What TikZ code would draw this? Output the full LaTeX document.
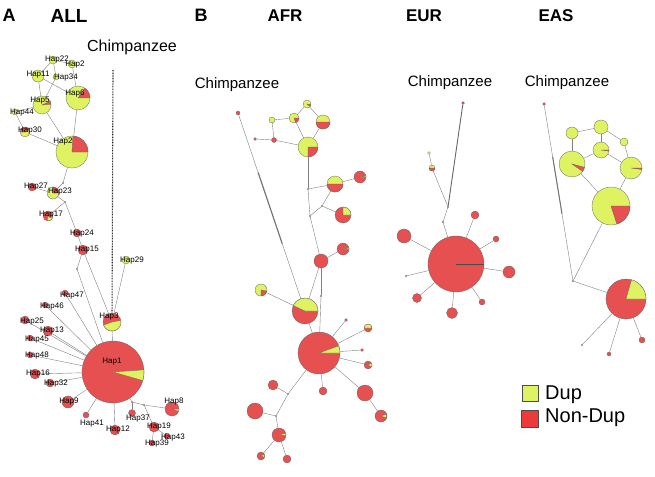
\documentclass[tikz,border=0pt]{standalone}
\usepackage{fontspec}
\setmainfont{Liberation Sans}
\usetikzlibrary{calc}
\definecolor{hap_dup}{RGB}{222, 242, 98}
\definecolor{hap_non}{RGB}{230, 80, 80}
\definecolor{leg_non}{RGB}{236, 58, 58}
\tikzstyle{rn}=[circle,fill=hap_non,draw=black!60,line width=0.3pt,inner sep=0pt]
\tikzstyle{yn}=[circle,fill=hap_dup,draw=black!60,line width=0.3pt,inner sep=0pt]
\tikzstyle{mv}=[circle,fill=black!75,inner sep=0pt,minimum size=1.8pt]
\tikzstyle{lab}=[inner sep=0pt,font=\fontsize{8}{8}\selectfont]
\tikzstyle{chimp}=[inner sep=0pt,font=\fontsize{15}{15}\selectfont]
\tikzstyle{ttl}=[inner sep=0pt,font=\fontsize{18}{18}\selectfont\bfseries]
\tikzstyle{ln}=[draw=black!50,line width=0.4pt]
\tikzstyle{none}=[]
% haplotype pie: name, position, radius, base style, wedge colour, from, to
\newcommand{\hpie}[7]{%
  \node [style=#4, minimum size=2*#3pt] (#1) at (#2) {};
  \filldraw [fill=#5, draw=black!60, line width=0.3pt] (#1.center) -- ++(#6:#3)
    arc [start angle=#6, end angle=#7, radius=#3] -- cycle;
}

\begin{document}
\begin{tikzpicture}[x=1pt, y=-1pt]
  \useasboundingbox (0,0) rectangle (655,476);

  % titles
  \node [style=ttl] (pa) at (9,15) {A};
  \node [style=ttl, font=\fontsize{19}{19}\selectfont\bfseries] (tall) at (69,16) {ALL};
  \node [style=ttl] (pb) at (201,15) {B};
  \node [style=ttl, font=\fontsize{17}{17}\selectfont\bfseries] (tafr) at (285,16) {AFR};
  \node [style=ttl, font=\fontsize{17}{17}\selectfont\bfseries] (teur) at (424,16) {EUR};
  \node [style=ttl, font=\fontsize{17}{17}\selectfont\bfseries] (teas) at (556,16) {EAS};

  % ---------------- A: ALL ----------------
  \node [style=chimp, font=\fontsize{16}{16}\selectfont] (cla) at (132,47) {Chimpanzee};
  \coordinate (ca) at (113,70);
  \node [style=yn, minimum size=8pt] (h22) at (53,60) {};
  \node [style=yn, minimum size=8pt] (h28) at (72,64) {};
  \node [style=yn, minimum size=12pt] (h11) at (38,76) {};
  \node [style=yn, minimum size=6pt] (h34) at (56,77) {};
  \hpie{h6}{78,98}{12}{yn}{hap_non}{-55}{0}
  \hpie{h5}{42,105}{9}{yn}{hap_non}{-25}{-5}
  \node [style=yn, minimum size=6pt] (h44) at (15,112) {};
  \hpie{h30}{25,132}{5}{yn}{hap_non}{180}{330}
  \hpie{h2}{72,152}{16}{yn}{hap_non}{-87}{0}
  \node [style=mv] (ma1) at (63,183) {};
  \node [style=rn, minimum size=8pt] (h27) at (32,187) {};
  \hpie{h23}{53,193}{6}{yn}{hap_non}{-90}{0}
  \node [style=mv] (ma2) at (65,202) {};
  \hpie{h17}{48,216}{5}{rn}{hap_dup}{20}{100}
  \node [style=rn, minimum size=8pt] (h24) at (77,233) {};
  \node [style=rn, minimum size=10pt] (h15) at (83,250) {};
  \node [style=mv] (ma4) at (77,269) {};
  \node [style=yn, minimum size=8pt] (h29) at (126,260) {};
  \hpie{h3}{112,322}{9}{rn}{hap_dup}{-10}{160}
  \hpie{h1}{113,372}{31}{rn}{hap_dup}{-4}{16}
  \node [style=rn, minimum size=6pt] (h47) at (65,293) {};
  \node [style=rn, minimum size=6pt] (h46) at (45,305) {};
  \node [style=rn, minimum size=8pt] (h25) at (25,320) {};
  \node [style=rn, minimum size=10pt] (h13) at (48,331) {};
  \node [style=rn, minimum size=6pt] (h45) at (30,338) {};
  \node [style=rn, minimum size=6pt] (h48) at (30,355) {};
  \node [style=rn, minimum size=10pt] (h16) at (35,374) {};
  \node [style=rn, minimum size=8pt] (h32) at (50,383) {};
  \node [style=rn, minimum size=12pt] (h9) at (68,402) {};
  \node [style=rn, minimum size=6pt] (h41) at (86,415) {};
  \node [style=rn, minimum size=10pt] (h12) at (115,430) {};
  \node [style=mv] (mb1) at (132,402) {};
  \node [style=mv] (mb2) at (144,405) {};
  \node [style=rn, minimum size=7pt] (h37) at (132,413) {};
  \hpie{h8}{172,409}{7}{rn}{hap_dup}{0}{20}
  \node [style=rn, minimum size=10pt] (h19) at (154,427) {};
  \node [style=rn, minimum size=6pt] (h43) at (167,436) {};
  \node [style=rn, minimum size=6pt] (h39) at (152,443) {};

  \draw [style=ln] (h22) to (h11);
  \draw [style=ln] (h22) to (h28);
  \draw [style=ln] (h22) to (h34);
  \draw [style=ln] (h11) to (h5);
  \draw [style=ln] (h11) to (h6);
  \draw [style=ln] (h34) to (h5);
  \draw [style=ln] (h28) to (h6);
  \draw [style=ln] (h5) to (h44);
  \draw [style=ln] (h44) to (h30);
  \draw [style=ln] (h5) to (h2);
  \draw [style=ln] (h30) to (h2);
  \draw [style=ln] (h6) to (h2);
  \draw [style=ln] (h2) to (ma1);
  \draw [style=ln] (ma1) to (h23);
  \draw [style=ln] (h27) to (h23);
  \draw [style=ln] (h23) to (ma2);
  \draw [style=ln] (ma2) to (h17);
  \draw [style=ln] (ma2) to (h24);
  \draw [style=ln] (h24) to (h15);
  \draw [style=ln] (h15) to (ma4);
  \draw [style=ln] (ma4) to (h1);
  \draw [style=ln] (h15) to (h3);
  \draw [style=ln] (h29) to (h3);
  \draw [style=ln] (h3) to (h1);
  \foreach \s in {h47,h46,h25,h13,h45,h48,h16,h32,h9,h41,h12}
    \draw [style=ln] (h1) to (\s);
  \draw [style=ln] (h1) to (mb1);
  \draw [style=ln] (mb1) to (h37);
  \draw [style=ln] (mb1) to (mb2);
  \draw [style=ln] (mb2) to (h8);
  \draw [style=ln] (mb2) to (h19);
  \draw [style=ln] (h19) to (h43);
  \draw [style=ln] (h19) to (h39);
  \draw [dash pattern=on 0.8pt off 0.8pt, line width=1.1pt, black!85] (ca) to (h3);

  % labels
  \node [style=lab] (l22) at (57,60) {Hap22};
  \node [style=lab] (l28) at (75,65) {Hap2};
  \node [style=lab] (l11) at (38,75) {Hap11};
  \node [style=lab] (l34) at (66,78) {Hap34};
  \node [style=lab] (l6) at (75,94) {Hap6};
  \node [style=lab] (l5) at (40,101) {Hap5};
  \node [style=lab] (l44) at (22,113) {Hap44};
  \node [style=lab] (l30) at (30,131) {Hap30};
  \node [style=lab] (l2) at (63,142) {Hap2};
  \node [style=lab] (l27) at (36,187) {Hap27};
  \node [style=lab] (l23) at (60,192) {Hap23};
  \node [style=lab] (l17) at (51,215) {Hap17};
  \node [style=lab] (l24) at (82,234) {Hap24};
  \node [style=lab] (l15) at (87,250) {Hap15};
  \node [style=lab] (l29) at (132,261) {Hap29};
  \node [style=lab] (l47) at (72,296) {Hap47};
  \node [style=lab] (l46) at (52,307) {Hap46};
  \node [style=lab] (l25) at (32,322) {Hap25};
  \node [style=lab] (l13) at (52,331) {Hap13};
  \node [style=lab] (l45) at (37,340) {Hap45};
  \node [style=lab] (l48) at (37,356) {Hap48};
  \node [style=lab] (l16) at (38,374) {Hap16};
  \node [style=lab] (l32) at (56,384) {Hap32};
  \node [style=lab] (l9) at (69,402) {Hap9};
  \node [style=lab] (l41) at (92,424) {Hap41};
  \node [style=lab] (l12) at (118,430) {Hap12};
  \node [style=lab] (l37) at (138,419) {Hap37};
  \node [style=lab] (l19) at (159,427) {Hap19};
  \node [style=lab] (l43) at (173,438) {Hap43};
  \node [style=lab] (l39) at (157,444) {Hap39};
  \node [style=lab] (l8) at (174,402) {Hap8};
  \node [style=lab] (l3) at (109,317) {Hap3};
  \node [style=lab] (l1) at (112,362) {Hap1};

  % ---------------- B: AFR ----------------
  \node [style=chimp] (clb) at (237,85) {Chimpanzee};
  \node [style=rn, minimum size=4pt] (achimp) at (238,113) {};
  \hpie{a1}{307,104}{4}{yn}{hap_non}{10}{40}
  \hpie{a2}{294,118}{5}{yn}{hap_non}{0}{70}
  \hpie{a3}{323,122}{7}{yn}{hap_non}{0}{180}
  \node [style=yn, minimum size=6pt] (a4) at (272,120) {};
  \node [style=rn, minimum size=5pt] (a5) at (274,140) {};
  \node [style=rn, minimum size=3pt] (a6) at (255,139) {};
  \hpie{a7}{308,147}{10}{yn}{hap_non}{0}{90}
  \node [style=mv] (ma1b) at (308,189) {};
  \node [style=mv] (ma2b) at (322,206) {};
  \node [style=mv] (ma3b) at (310,216) {};
  \hpie{a8}{335,184}{8}{yn}{hap_non}{0}{180}
  \hpie{a9}{360,177}{6}{rn}{hap_dup}{-12}{0}
  \hpie{a10}{343,215}{8}{rn}{hap_dup}{-90}{0}
  \node [style=rn, minimum size=14pt] (a11) at (321,261) {};
  \hpie{a12}{343,249}{6}{rn}{hap_dup}{-12}{0}
  \hpie{a13}{261,290}{6}{yn}{hap_non}{10}{90}
  \hpie{a14}{305,311}{13}{rn}{hap_dup}{-155}{0}
  \node [style=mv] (amv) at (321,296) {};
  \hpie{a15}{319,353}{21}{rn}{hap_dup}{-20}{0}
  \node [style=rn, minimum size=3pt] (s1) at (346,320) {};
  \hpie{s2}{368,328}{4}{rn}{hap_dup}{-180}{0}
  \node [style=rn, minimum size=3pt] (s3) at (362,350) {};
  \hpie{s4}{368,365}{4}{rn}{hap_dup}{-30}{30}
  \node [style=rn, minimum size=16pt] (s5) at (365,393) {};
  \hpie{s6}{381,416}{6}{rn}{hap_dup}{-20}{20}
  \node [style=rn, minimum size=8pt] (s7) at (323,391) {};
  \node [style=rn, minimum size=10pt] (s8) at (273,385) {};
  \node [style=mv] (m4) at (288,394) {};
  \node [style=mv] (m5) at (276,416) {};
  \node [style=rn, minimum size=16pt] (s9) at (255,411) {};
  \hpie{s10}{279,435}{7}{rn}{hap_dup}{-15}{5}
  \hpie{s11}{261,456}{4}{rn}{hap_dup}{-30}{20}
  \node [style=rn, minimum size=8pt] (s12) at (287,459) {};

  \draw [style=ln] (a1) to (a2);
  \draw [style=ln] (a1) to (a3);
  \draw [style=ln] (a2) to (a4);
  \draw [style=ln] (a2) to (a7);
  \draw [style=ln] (a3) to (a7);
  \draw [style=ln] (a4) to (a5);
  \draw [style=ln] (a5) to (a6);
  \draw [style=ln] (a5) to (a7);
  \draw [style=ln] (a7) to (ma1b);
  \draw [style=ln] (ma1b) to (a8);
  \draw [style=ln] (a8) to (a9);
  \draw [style=ln] (a8) to (ma2b);
  \draw [style=ln] (ma2b) to (a10);
  \draw [style=ln] (ma2b) to (ma3b);
  \draw [style=ln] (ma1b) to (ma3b);
  \draw [style=ln] (ma3b) to (a11);
  \draw [style=ln] (a11) to (a12);
  \draw [style=ln] (a11) to (amv);
  \draw [style=ln] (amv) to (a15);
  \draw [style=ln] (a11) to (a14);
  \draw [style=ln] (a13) to (a14);
  \draw [style=ln] (a14) to (a15);
  \draw [style=ln] (achimp) to (a14);
  \draw [line width=1.1pt, black!55] ($(achimp)!0.3!(a14)$) to ($(achimp)!0.66!(a14)$);
  \foreach \s in {s1,s2,s3,s4,s5,s7,m4}
    \draw [style=ln] (a15) to (\s);
  \draw [style=ln] (s5) to (s6);
  \draw [style=ln] (m4) to (s8);
  \draw [style=ln] (m4) to (m5);
  \draw [style=ln] (m5) to (s9);
  \draw [style=ln] (m5) to (s10);
  \draw [style=ln] (s10) to (s11);
  \draw [style=ln] (s10) to (s12);

  % ---------------- B: EUR ----------------
  \node [style=chimp] (clc) at (450,83) {Chimpanzee};
  \node [style=rn, minimum size=3pt] (echimp) at (463,103) {};
  \node [style=yn, minimum size=3pt] (ey) at (429,153) {};
  \hpie{ep}{432,168}{3}{yn}{hap_non}{0}{180}
  \node [style=mv] (em1) at (448,207) {};
  \node [style=mv] (em2) at (443,222) {};
  \node [style=rn, minimum size=56pt] (ebig) at (456,264) {};
  \draw [black!70, line width=0.6pt] (ebig.center) to (ebig.east);
  \node [style=rn, minimum size=14pt] (e1) at (404,236) {};
  \node [style=rn, minimum size=8pt] (e2) at (475,215) {};
  \node [style=rn, minimum size=6pt] (e3) at (496,239) {};
  \node [style=rn, minimum size=12pt] (e4) at (509,272) {};
  \node [style=rn, minimum size=6pt] (e5) at (482,302) {};
  \node [style=rn, minimum size=11pt] (e6) at (452,313) {};
  \node [style=rn, minimum size=9pt] (e7) at (417,298) {};
  \node [style=mv] (e8) at (406,276) {};

  \draw [line width=0.9pt, black!60] (echimp) to (em1);
  \draw [style=ln] (ey) to (ep);
  \draw [style=ln] (ep) to (em1);
  \draw [style=ln] (em1) to (em2);
  \draw [style=ln] (em2) to (ebig);
  \foreach \s in {e1,e2,e3,e4,e5,e6,e7,e8}
    \draw [style=ln] (ebig) to (\s);

  % ---------------- B: EAS ----------------
  \node [style=chimp] (cld) at (567,83) {Chimpanzee};
  \node [style=rn, minimum size=3pt] (xchimp) at (544,104) {};
  \node [style=yn, minimum size=12pt] (n1) at (572,133) {};
  \node [style=yn, minimum size=14pt] (n2) at (601,127) {};
  \node [style=yn, minimum size=8pt] (n3) at (624,142) {};
  \hpie{n4}{601,150}{8}{yn}{hap_non}{0}{8}
  \hpie{n5}{572,164}{13}{yn}{hap_non}{15}{35}
  \hpie{n6}{631,168}{11}{yn}{hap_non}{0}{8}
  \hpie{n7}{611,206}{19}{yn}{hap_non}{0}{72}
  \node [style=mv] (xm) at (573,281) {};
  \hpie{n8}{626,299}{20}{rn}{hap_dup}{-74}{0}
  \node [style=mv] (x1) at (582,345) {};
  \node [style=rn, minimum size=4pt] (x2) at (609,354) {};
  \node [style=rn, minimum size=6pt] (x3) at (642,340) {};

  \draw [style=ln] (xchimp) to (xm);
  \draw [line width=1pt, black!55] ($(xchimp)!0.3!(xm)$) to ($(xchimp)!0.62!(xm)$);
  \draw [style=ln] (xm) to (n7);
  \draw [style=ln] (xm) to (n8);
  \draw [style=ln] (n1) to (n2);
  \draw [style=ln] (n1) to (n5);
  \draw [style=ln] (n2) to (n4);
  \draw [style=ln] (n2) to (n3);
  \draw [style=ln] (n4) to (n5);
  \draw [style=ln] (n4) to (n6);
  \draw [style=ln] (n3) to (n6);
  \draw [style=ln] (n5) to (n7);
  \draw [style=ln] (n6) to (n7);
  \draw [style=ln] (n8) to (x1);
  \draw [style=ln] (n8) to (x2);
  \draw [style=ln] (n8) to (x3);

  % legend
  \node [draw=black!70, fill=hap_dup, minimum size=16pt, inner sep=0pt] (kdup) at (530,393) {};
  \node [draw=black!70, fill=leg_non, minimum size=17pt, inner sep=0pt] (knon) at (530,419) {};
  \node [anchor=west, inner sep=0pt, font=\fontsize{20}{20}\selectfont] (tdup) at (545,395) {Dup};
  \node [anchor=west, inner sep=0pt, font=\fontsize{20}{20}\selectfont] (tnon) at (545,418) {Non-Dup};
\end{tikzpicture}
\end{document}
